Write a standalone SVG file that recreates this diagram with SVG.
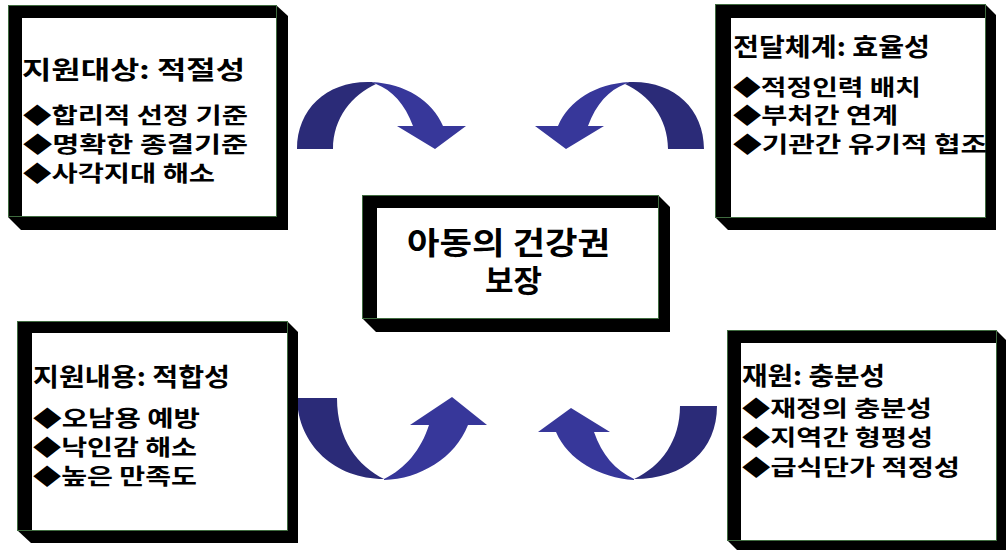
<svg xmlns="http://www.w3.org/2000/svg" width="1006" height="550" viewBox="0 0 1006 550">
<defs>
<style>
.frame{fill:#000}
.inner{fill:#fff}
.edge{fill:none;stroke:#3f6b3f;stroke-width:1}
text{font-family:"Noto Sans CJK KR","Noto Sans",sans-serif;font-weight:700;fill:#000}
.t{font-size:25px}
.i{font-size:22px}
.c{font-size:31px}
.dk{fill:#2b2b78}
.lt{fill:#37379a}
</style>
</defs>
<rect width="1006" height="550" fill="#fff"/>

<g id="connectors">
  <g id="arrow-tl">
    <path class="dk" d="M297,149 C297,108 328,80 372,82 L376,84 C352,95 333,118 333,149 Z"/>
    <path class="lt" d="M372,82 C405,84 432,100 443,126 L466,126 L435,149 L397,126 L413,126 C405,104 392,90 376,84 Z"/>
  </g>
  <g id="arrow-tr" transform="translate(1001,0) scale(-1,1)">
    <path class="dk" d="M297,149 C297,108 328,80 372,82 L376,84 C352,95 333,118 333,149 Z"/>
    <path class="lt" d="M372,82 C405,84 432,100 443,126 L466,126 L435,149 L397,126 L413,126 C405,104 392,90 376,84 Z"/>
  </g>
  <g id="arrow-bl">
    <path class="dk" d="M297,398 L337,398 C337,440 358,466 384,479 C335,479 298,445 297,398 Z"/>
    <path class="lt" d="M384,480 C420,479 455,458 468,425 L487,425 L452,397 L410,425 L429,425 C421,450 405,469 384,479 Z"/>
  </g>
  <g id="arrow-br">
    <path class="dk" d="M717,406 L680,406 C680,440 662,466 634,479 C685,479 717,450 717,406 Z"/>
    <path class="lt" d="M634,480 C600,478 568,460 556,432 L538,432 L571,408 L610,432 L594,432 C602,455 615,470 634,479 Z"/>
  </g>
</g>

<g id="node-tl">
  <polygon class="frame" points="8,5 276,5 288,16 288,230 21,230 8,217"/>
  <rect class="inner" x="22" y="18" width="254" height="198"/>
  <rect class="edge" x="8.5" y="5.5" width="268" height="211"/>
  <text class="t" x="22" y="79" textLength="223" lengthAdjust="spacingAndGlyphs">지원대상: 적절성</text>
  <text class="i" x="23" y="123" textLength="225" lengthAdjust="spacingAndGlyphs">◆합리적 선정 기준</text>
  <text class="i" x="23" y="152" textLength="225" lengthAdjust="spacingAndGlyphs">◆명확한 종결기준</text>
  <text class="i" x="23" y="181" textLength="192" lengthAdjust="spacingAndGlyphs">◆사각지대 해소</text>
</g>

<g id="node-tr">
  <polygon class="frame" points="715,4 985,4 996,15 996,230 728,230 715,217"/>
  <rect class="inner" x="731" y="18" width="254" height="199"/>
  <rect class="edge" x="715.5" y="4.5" width="270" height="213"/>
  <text class="t" x="733" y="56" textLength="197" lengthAdjust="spacingAndGlyphs">전달체계: 효율성</text>
  <text class="i" x="733" y="95" textLength="188" lengthAdjust="spacingAndGlyphs">◆적정인력 배치</text>
  <text class="i" x="733" y="123" textLength="165" lengthAdjust="spacingAndGlyphs">◆부처간 연계</text>
  <text class="i" x="733" y="152" textLength="254" lengthAdjust="spacingAndGlyphs">◆기관간 유기적 협조</text>
</g>

<g id="node-center">
  <polygon class="frame" points="362,195 658,195 670,207 670,332 376,332 362,318"/>
  <rect class="inner" x="377" y="208" width="281" height="110"/>
  <rect class="edge" x="362.5" y="195.5" width="296" height="123"/>
  <text class="c" x="407" y="254" textLength="203" lengthAdjust="spacingAndGlyphs">아동의 건강권</text>
  <text class="c" x="485" y="292" textLength="57" lengthAdjust="spacingAndGlyphs">보장</text>
</g>

<g id="node-bl">
  <polygon class="frame" points="17,321 287,321 298,332 298,543 31,543 17,530"/>
  <rect class="inner" x="32" y="333" width="255" height="197"/>
  <rect class="edge" x="17.5" y="321.5" width="270" height="209"/>
  <text class="t" x="33" y="386" textLength="197" lengthAdjust="spacingAndGlyphs">지원내용: 적합성</text>
  <text class="i" x="33" y="426" textLength="167" lengthAdjust="spacingAndGlyphs">◆오남용 예방</text>
  <text class="i" x="33" y="455" textLength="164" lengthAdjust="spacingAndGlyphs">◆낙인감 해소</text>
  <text class="i" x="33" y="484" textLength="164" lengthAdjust="spacingAndGlyphs">◆높은 만족도</text>
</g>

<g id="node-br">
  <polygon class="frame" points="727,330 996,330 1008,342 1008,553 740,553 727,540"/>
  <rect class="inner" x="741" y="343" width="255" height="197"/>
  <rect class="edge" x="727.5" y="330.5" width="269" height="210"/>
  <text class="t" x="742" y="385" textLength="143" lengthAdjust="spacingAndGlyphs">재원: 충분성</text>
  <text class="i" x="742" y="416" textLength="190" lengthAdjust="spacingAndGlyphs">◆재정의 충분성</text>
  <text class="i" x="742" y="445" textLength="191" lengthAdjust="spacingAndGlyphs">◆지역간 형평성</text>
  <text class="i" x="742" y="475" textLength="218" lengthAdjust="spacingAndGlyphs">◆급식단가 적정성</text>
</g>
</svg>
